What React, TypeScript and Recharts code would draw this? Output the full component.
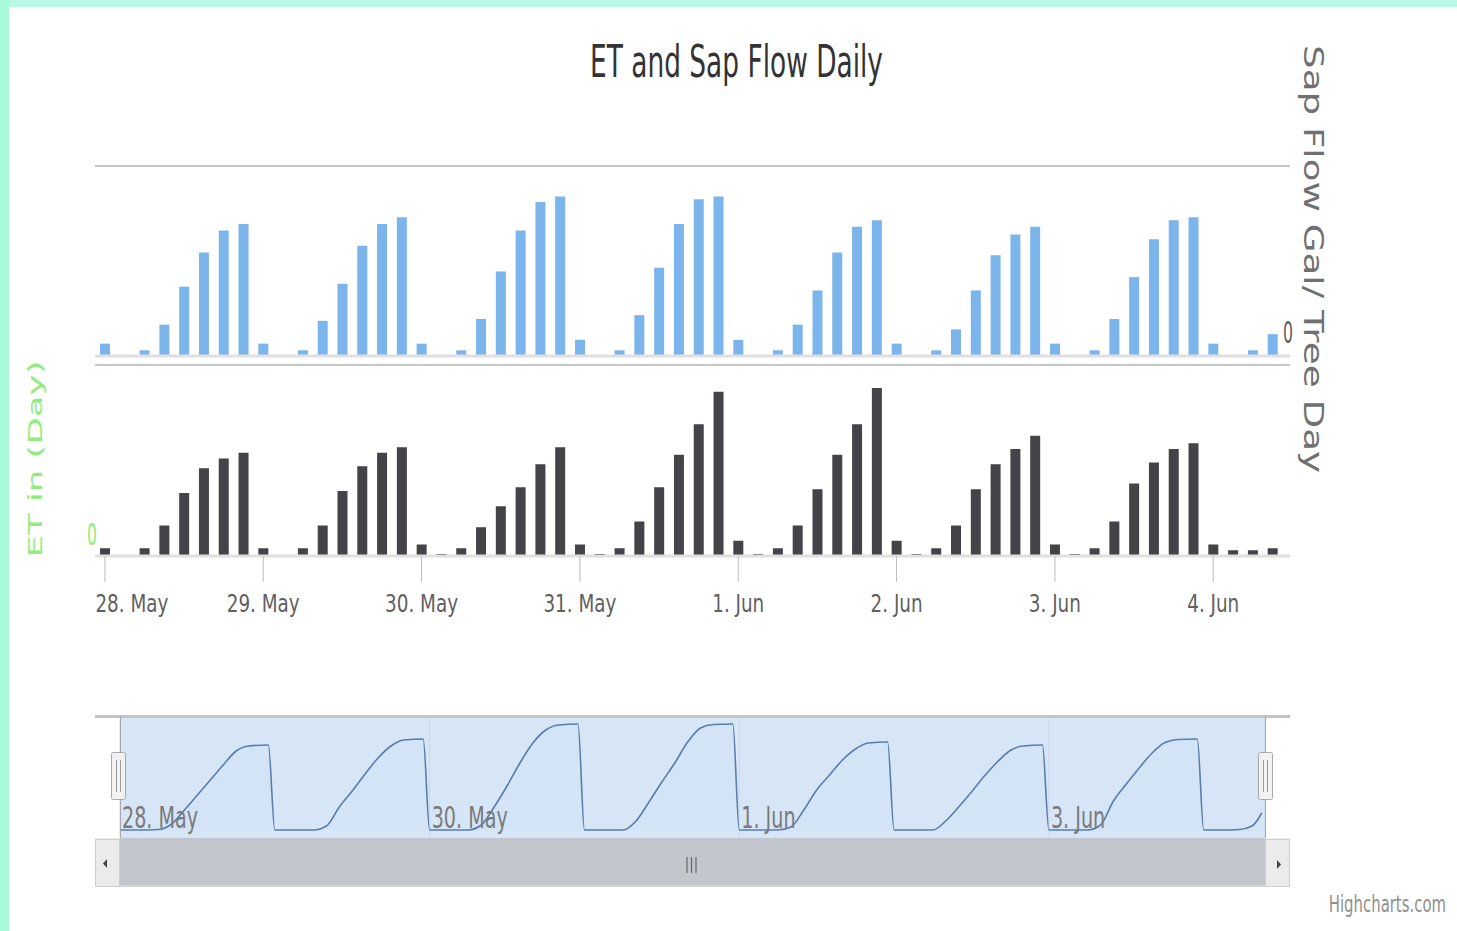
import React from 'react';
import { BarChart, Bar, XAxis, YAxis, ReferenceLine, ComposedChart, Area, CartesianGrid } from 'recharts';

// ---- data (3-hourly slots starting 28 May 00:00) ----
const dayLabels = ['28. May', '29. May', '30. May', '31. May', '1. Jun', '2. Jun', '3. Jun', '4. Jun'];
const dayTickSlots = [0, 8, 16, 24, 32, 40, 48, 56];

const sapFlow = [
  1.3, 0, 0.6, 3.3, 7.3, 10.9, 13.2, 13.9,
  1.3, 0.1, 0.6, 3.7, 7.6, 11.6, 13.9, 14.6,
  1.3, 0.1, 0.6, 3.9, 8.9, 13.2, 16.2, 16.8,
  1.7, 0.1, 0.6, 4.3, 9.3, 13.9, 16.5, 16.8,
  1.7, 0.1, 0.6, 3.3, 6.9, 10.9, 13.6, 14.3,
  1.3, 0.1, 0.6, 2.8, 6.9, 10.6, 12.8, 13.6,
  1.3, 0.1, 0.6, 3.9, 8.3, 12.3, 14.3, 14.6,
  1.3, 0.1, 0.6, 2.3,
];

const etValues = [
  0.004, 0, 0.004, 0.016, 0.033, 0.046, 0.051, 0.054,
  0.004, 0, 0.004, 0.016, 0.034, 0.047, 0.054, 0.057,
  0.006, 0.001, 0.004, 0.015, 0.026, 0.036, 0.048, 0.057,
  0.006, 0.001, 0.004, 0.018, 0.036, 0.053, 0.069, 0.086,
  0.008, 0.001, 0.004, 0.016, 0.035, 0.053, 0.069, 0.088,
  0.008, 0.001, 0.004, 0.016, 0.035, 0.048, 0.056, 0.063,
  0.006, 0.001, 0.004, 0.018, 0.038, 0.049, 0.056, 0.059,
  0.006, 0.003, 0.003, 0.004,
];

// navigator: cumulative daily sap flow, sampled at these hours of each day
const navHourOffsets = [0, 3, 6, 8, 10, 12, 14, 16, 18, 20, 23];
const navDay1 = [0, 0, 0.05, 0.6, 2.0, 3.5, 5.0, 6.5, 7.9, 8.4, 8.5];
const navDay2 = [0, 0, 0, 0.4, 2.3, 3.9, 5.6, 7.2, 8.4, 9.0, 9.1];
const navDay3 = [0, 0, 0, 0.5, 2.3, 4.4, 6.7, 8.7, 10.0, 10.5, 10.6];
const navDay4 = [0, 0, 0, 0.9, 2.8, 4.8, 6.7, 8.8, 10.2, 10.55, 10.6];
const navDay5 = [0, 0, 0, 0.3, 2.0, 4.0, 5.5, 7.0, 8.1, 8.7, 8.8];
const navDay6 = [0, 0, 0, 0.9, 2.3, 3.8, 5.4, 6.8, 7.95, 8.4, 8.5];
const navDay7 = [0, 0, 0, 0.5, 2.9, 4.6, 6.2, 7.7, 8.75, 9.05, 9.1];
const navLastHours = [0, 3, 5.5, 7.5, 9];
const navDay8 = [0, 0, 0.05, 0.4, 1.7];
const navTickHours = [0, 48, 96, 144];
const navLabels = ['28. May', '30. May', '1. Jun', '3. Jun'];

const barData = sapFlow.map((v, i) => ({ slot: i, sap: v, et: etValues[i] }));
const navData: { h: number; v: number }[] = [];
[navDay1, navDay2, navDay3, navDay4, navDay5, navDay6, navDay7].forEach((day, d) => {
  day.forEach((v, k) => navData.push({ h: d * 24 + navHourOffsets[k], v }));
});
navDay8.forEach((v, k) => navData.push({ h: 7 * 24 + navLastHours[k], v }));

const NARROW = "'Liberation Sans Narrow', 'DejaVu Sans Condensed', 'Roboto Condensed', 'Arial Narrow', sans-serif";
const WIDE = "'DejaVu Sans', Verdana, sans-serif";

const DayTick = (props: any) => {
  const { x, y, payload, index } = props;
  const label = dayLabels[dayTickSlots.indexOf(payload.value)];
  const first = index === 0;
  return (
    <g transform={`translate(${first ? x - 9.5 : x},${y + 28}) scale(0.83,1)`}>
      <text x={0} y={0} textAnchor={first ? 'start' : 'middle'}
        fontFamily={NARROW} fontSize={24.6} fill="#606060">{label}</text>
    </g>
  );
};

const NavTick = (props: any) => {
  const { x, y, payload } = props;
  const label = navLabels[navTickHours.indexOf(payload.value)];
  return (
    <g transform={`translate(${x + 2},${y - 10}) scale(0.71,1)`}>
      <text x={0} y={0} textAnchor="start" fontFamily={NARROW} fontSize={30} fill="#7a7a7a">{label}</text>
    </g>
  );
};

const RightZeroTick = (props: any) => {
  const { x, y, payload } = props;
  if (payload.value !== 0) return <g />;
  return (
    <text x={x - 7} y={y - 13} textAnchor="start" fontFamily={NARROW} fontSize={30}
      textLength={10} lengthAdjust="spacingAndGlyphs" fill="#606060">0</text>
  );
};

const LeftZeroTick = (props: any) => {
  const { x, y, payload } = props;
  if (payload.value !== 0) return <g />;
  return (
    <text x={x - 8} y={y - 11} textAnchor="start" fontFamily={NARROW} fontSize={30}
      textLength={10} lengthAdjust="spacingAndGlyphs" fill="#90ed7d">0</text>
  );
};

export default function App() {
  return (
    <div style={{ position: 'absolute', left: 0, top: 0, width: 1457, height: 931, background: '#ffffff', overflow: 'hidden' }}>
      {/* Sap flow pane */}
      <div style={{ position: 'absolute', left: 0, top: 0 }}>
        <BarChart width={1457} height={400} data={barData} margin={{ top: 166, right: 166, left: 95, bottom: 44 }}>
          <XAxis type="number" dataKey="slot" domain={[-0.5, 59.88]} allowDataOverflow hide />
          <YAxis yAxisId="sap" orientation="right" width={1} domain={[0, 20]} ticks={[0, 20]}
            axisLine={false} tickLine={false} tickSize={0} tickMargin={0} tick={RightZeroTick} />
          <ReferenceLine yAxisId="sap" y={20} stroke="#c6c6c6" strokeWidth={2} />
          <ReferenceLine yAxisId="sap" y={0} stroke="#e0e0e0" strokeWidth={3} />
          <Bar yAxisId="sap" dataKey="sap" fill="#7cb5ec" barSize={10} isAnimationActive={false} />
        </BarChart>
      </div>

      {/* ET pane */}
      <div style={{ position: 'absolute', left: 0, top: 0 }}>
        <BarChart width={1457} height={660} data={barData} margin={{ top: 365, right: 167, left: 94, bottom: 44 }}>
          <XAxis type="number" dataKey="slot" domain={[-0.5, 59.88]} allowDataOverflow ticks={dayTickSlots}
            interval={0} height={60} axisLine={false} tickSize={26} tickMargin={2}
            tickLine={{ stroke: '#bdbdbd', strokeWidth: 1 }} tick={DayTick} />
          <YAxis yAxisId="et" orientation="left" width={1} domain={[0, 0.1]} ticks={[0, 0.1]}
            axisLine={false} tickLine={false} tickSize={0} tickMargin={0} tick={LeftZeroTick} />
          <ReferenceLine yAxisId="et" y={0.1} stroke="#c6c6c6" strokeWidth={2} />
          <ReferenceLine yAxisId="et" y={0} stroke="#e0e0e0" strokeWidth={3} />
          <Bar yAxisId="et" dataKey="et" fill="#434348" barSize={10} isAnimationActive={false} />
        </BarChart>
      </div>

      {/* Navigator */}
      <div style={{ position: 'absolute', left: 0, top: 700 }}>
        <ComposedChart width={1457} height={150} data={navData} margin={{ top: 18, right: 192, left: 120, bottom: 11 }}>
          <CartesianGrid horizontal={false} vertical stroke="#c9d8ea" fill="#d6e6f7" />
          <XAxis type="number" dataKey="h" domain={[0, 177.5]} allowDataOverflow ticks={navTickHours}
            interval={0} height={1} axisLine={false} tickLine={false} tickSize={0} tickMargin={0} tick={NavTick} />
          <YAxis hide domain={[-0.8, 11.2]} allowDataOverflow />
          <Area type="monotone" dataKey="v" stroke="#5a7da8" strokeWidth={1.6} fill="#4572a7" fillOpacity={0.015}
            isAnimationActive={false} dot={false} activeDot={false} />
        </ComposedChart>
      </div>

      {/* chrome overlay */}
      <svg width={1457} height={931} style={{ position: 'absolute', left: 0, top: 0, pointerEvents: 'none' }}>
        <rect x={0} y={0} width={1457} height={7} fill="#b9f9e4" />
        <rect x={0} y={0} width={9} height={931} fill="#a7fbda" />

        <text x={736.5} y={77} textAnchor="middle" fontFamily={NARROW} fontSize={45} fill="#333333"
          textLength={293} lengthAdjust="spacingAndGlyphs">ET and Sap Flow Daily</text>

        <g transform="translate(1304,259) rotate(90)">
          <text x={0} y={0} textAnchor="middle" fontFamily={WIDE} fontSize={26} fill="#707070"
            textLength={428} lengthAdjust="spacingAndGlyphs">Sap Flow Gal/ Tree Day</text>
        </g>
        <g transform="translate(42,459) rotate(-90)">
          <text x={0} y={0} textAnchor="middle" fontFamily={WIDE} fontSize={20} fill="#90ed7d"
            textLength={197} lengthAdjust="spacingAndGlyphs">ET in (Day)</text>
        </g>

        {/* navigator outline */}
        <line x1={95} y1={716.5} x2={1290} y2={716.5} stroke="#c4c4c4" strokeWidth={3} />
        <line x1={120.5} y1={716} x2={120.5} y2={840} stroke="#a8a8a8" strokeWidth={1} />
        <line x1={1265.5} y1={716} x2={1265.5} y2={840} stroke="#a8a8a8" strokeWidth={1} />

        {/* scrollbar */}
        <rect x={95} y={838} width={1195} height={49} fill="#eeeeee" />
        <rect x={120} y={838} width={1145} height={48} fill="#c3c7cd" />
        <line x1={120} y1={886} x2={1265} y2={886} stroke="#d4d6da" strokeWidth={2} />
        <rect x={95.5} y={839.5} width={24} height={47} fill="#ebebeb" stroke="#cfcfcf" />
        <rect x={1265.5} y={839.5} width={24} height={47} fill="#ebebeb" stroke="#cfcfcf" />
        <path d="M 107 859 L 103 863.5 L 107 868 Z" fill="#444" />
        <path d="M 1277 860 L 1281 864.5 L 1277 869 Z" fill="#444" />
        <line x1={687} y1={857} x2={687} y2={873} stroke="#666" strokeWidth={1.2} />
        <line x1={691.5} y1={857} x2={691.5} y2={873} stroke="#666" strokeWidth={1.2} />
        <line x1={696} y1={857} x2={696} y2={873} stroke="#666" strokeWidth={1.2} />

        {/* navigator handles */}
        <rect x={111.5} y={752.5} width={14} height={47} rx={2} fill="#f2f2f2" stroke="#aaaaaa" />
        <line x1={116.5} y1={760} x2={116.5} y2={792} stroke="#999" />
        <line x1={120.5} y1={760} x2={120.5} y2={792} stroke="#999" />
        <rect x={1258.5} y={752.5} width={14} height={47} rx={2} fill="#f2f2f2" stroke="#aaaaaa" />
        <line x1={1263.5} y1={760} x2={1263.5} y2={792} stroke="#999" />
        <line x1={1267.5} y1={760} x2={1267.5} y2={792} stroke="#999" />

        <g transform="translate(1446,912) scale(0.72,1)">
          <text x={0} y={0} textAnchor="end" fontFamily={NARROW} fontSize={23} fill="#909090">Highcharts.com</text>
        </g>
      </svg>
    </div>
  );
}
